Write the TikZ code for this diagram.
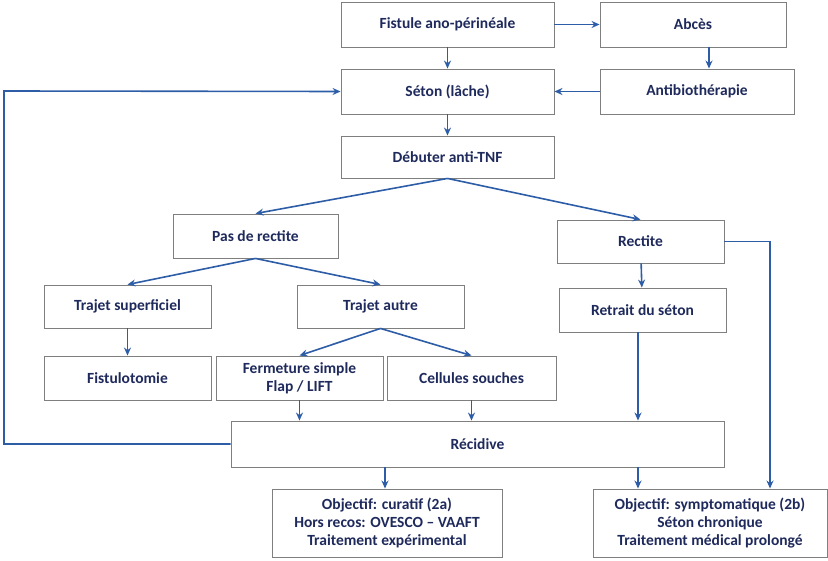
\documentclass[tikz,border=0pt]{standalone}
\usepackage{fontspec}
\setmainfont{Carlito}
\usetikzlibrary{arrows.meta}
\definecolor{txt}{HTML}{1F2A5C}
\definecolor{arr}{HTML}{2E5DA8}
\definecolor{bd}{HTML}{7F7F7F}
\begin{document}
\begin{tikzpicture}[x=1pt,y=-1pt,
 box/.style={draw=bd,line width=0.9pt,fill=white,text=txt,font=\bfseries\fontsize{15.5}{18}\selectfont,align=center,inner sep=0pt},
 ar/.style={draw=arr,line width=1.6pt,-{Stealth[length=8pt,width=7pt]}}]
\useasboundingbox (0,0) rectangle (828,561);
\newcommand{\bx}[6]{\node[box,minimum width=#4-#2,minimum height=#5-#3] (#1) at ({(#2+#4)/2},{(#3+#5)/2}) {#6};}
\bx{fis}{341}{2}{554}{47}{Fistule ano-périnéale}
\bx{abc}{600}{2}{786}{47}{Abcès}
\bx{set}{341}{69}{554}{114}{Séton (lâche)}
\bx{ant}{600}{69}{794}{114}{Antibiothérapie}
\bx{deb}{341}{136}{554}{178}{Débuter anti-TNF}
\bx{pas}{173}{214}{338}{258}{Pas de rectite}
\bx{rec}{557}{220}{724}{263}{Rectite}
\bx{tsu}{44}{285}{211}{328}{Trajet superficiel}
\bx{tau}{297}{285}{464}{328}{Trajet autre}
\bx{ret}{559}{288}{726}{332}{Retrait du séton}
\bx{fto}{44}{356}{211}{400}{Fistulotomie}
\bx{fer}{216}{356}{383}{400}{Fermeture simple\\Flap / LIFT}
\bx{cel}{387}{356}{556}{400}{Cellules souches}
\bx{rcd}{231}{421}{724}{467}{Récidive}
\bx{cur}{272}{489}{502}{557}{Objectif: curatif (2a)\\Hors recos: OVESCO – VAAFT\\Traitement expérimental}
\bx{sym}{593}{489}{827}{557}{Objectif: symptomatique (2b)\\Séton chronique\\Traitement médical prolongé}
\draw[ar] (fis) -- (abc);
\draw[ar] (abc.south -| 709,0) -- (ant.north -| 709,0);
\draw[ar] (ant) -- (set);
\draw[ar] (fis) -- (set);
\draw[ar] (set) -- (deb);
\draw[ar] (deb.south) -- (pas.north);
\draw[ar] (deb.south) -- (rec.north);
\draw[ar] (pas.south) -- (tsu.north);
\draw[ar] (pas.south) -- (tau.north);
\draw[ar] (tsu) -- (fto);
\draw[ar] (tau.south) -- (fer.north);
\draw[ar] (tau.south) -- (cel.north);
\draw[ar] (rec) -- (ret);
\draw[ar] (fer.south) -- (rcd.north -| fer.south);
\draw[ar] (cel.south) -- (rcd.north -| cel.south);
\draw[ar] (ret.south -| 638,0) -- (rcd.north -| 638,0);
\draw[ar] (rcd.south -| 385,0) -- (cur.north -| 385,0);
\draw[ar] (rcd.south -| 638,0) -- (sym.north -| 638,0);
\draw[ar] (rec.east) -| (sym.north -| 770,0);
\draw[ar] (rcd.west) -| (4,91) -- (set.west);
\end{tikzpicture}
\end{document}
